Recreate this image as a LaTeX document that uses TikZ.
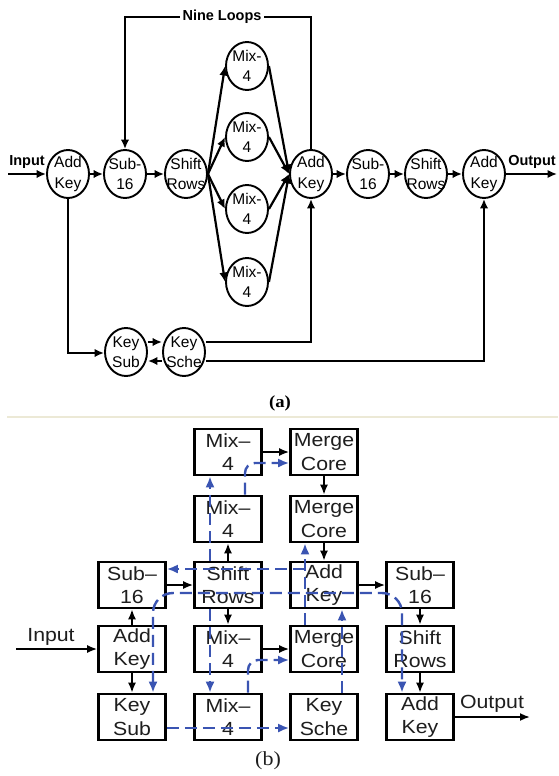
\documentclass[tikz,border=0pt]{standalone}
\usepackage{fontspec}
\setmainfont{Liberation Sans}
\newfontfamily\boxfont[FakeStretch=1.12]{Liberation Sans}
\newfontfamily\capfont[FakeStretch=1.1]{Liberation Serif}
\usetikzlibrary{arrows.meta,shapes.geometric}

\definecolor{kblue}{RGB}{58,84,178}
\definecolor{sepc}{RGB}{236,233,214}
\definecolor{boxtext}{RGB}{30,30,30}

\tikzset{
  circ/.style={ellipse, draw, line width=1.9pt, minimum width=42pt, minimum height=48pt,
    inner sep=-9pt, align=center, font=\fontsize{15.5}{20.5}\selectfont},
  aline/.style={line width=2.2pt, -{Latex[length=9.5pt,width=8.5pt]}},
  alabel/.style={font=\bfseries\fontsize{14.5}{16}\selectfont, inner sep=1pt},
  box/.style={draw, line width=2.6pt, minimum width=67pt, minimum height=46pt,
    inner sep=0pt, align=center, text=boxtext, font=\boxfont\fontsize{19}{23.5}\selectfont},
  barr/.style={line width=1.8pt, -{Latex[length=10pt,width=8pt]}},
  bdash/.style={kblue, line width=2.4pt, dash pattern=on 12pt off 6pt, -{Latex[length=11pt,width=9pt]}},
  blbl/.style={font=\boxfont\fontsize{19}{22}\selectfont, text=boxtext, inner sep=1pt},
}

\begin{document}
\begin{tikzpicture}[x=1pt,y=-1pt]
\useasboundingbox (0,0) rectangle (558,776);
\fill[white] (0,0) rectangle (558,776);

% ================= (a) =================
\node[circ] (a1) at (68,174) {Add\\Key};
\node[circ] (s1) at (125,174) {Sub-\\16};
\node[circ] (r1) at (186,174) {Shift\\Rows};
\node[circ] (x1) at (247,66) {Mix-\\4};
\node[circ] (x2) at (247,137) {Mix-\\4};
\node[circ] (x3) at (247,209) {Mix-\\4};
\node[circ] (x4) at (247,282) {Mix-\\4};
\node[circ] (a2) at (311,174) {Add\\Key};
\node[circ] (s2) at (368,174) {Sub-\\16};
\node[circ] (r2) at (426,174) {Shift\\Rows};
\node[circ] (a3) at (484,174) {Add\\Key};
\node[circ] (ks) at (126,352) {Key\\Sub};
\node[circ] (kc) at (184,352) {Key\\Sche};

\coordinate (ainS) at (8,174);
\coordinate (aoutE) at (557,174);
\coordinate (top) at (0,17);
\coordinate (kb) at (0,353);
\coordinate (ku) at (0,342);
\coordinate (kl) at (0,361);

\node[alabel] (ain) at (27,162) {Input};
\node[alabel] (aout) at (532,162) {Output};

\draw[aline] (ainS) -- (a1);
\draw[aline] (a1) -- (s1);
\draw[aline] (s1) -- (r1);
\foreach \i in {1,2,3,4}{
  \draw[aline] (r1.east) -- (x\i.west);
  \draw[aline] (x\i.east) -- (a2.west);
}
\draw[aline] (a2) -- (s2);
\draw[aline] (s2) -- (r2);
\draw[aline] (r2) -- (a3);
\draw[aline] (a3) -- (aoutE);

\draw[aline] (a2.north) -- (a2.north |- top) -- (s1.north |- top) -- (s1.north);
\node[alabel, fill=white, inner sep=3pt] (nl) at (222,17) {Nine Loops};

\draw[aline] (a1.south) -- (a1.south |- kb) -- (ks.west |- kb);
\draw[aline] (ks.east |- ku) -- (kc.west |- ku);
\draw[aline] (kc.west |- kl) -- (ks.east |- kl);
\draw[aline] (kc.east |- ku) -- (a2.south |- ku) -- (a2.south);
\draw[aline] (kc.east |- kl) -- (a3.south |- kl) -- (a3.south);

\node[font=\capfont\bfseries\fontsize{17}{18}\selectfont, inner sep=0pt] (capa) at (280,403) {(a)};

\draw[sepc, line width=1.4pt] (7,417) -- (558,417);

% ================= (b) =================
\node[box] (m1) at (228,452) {Mix–\\4};
\node[box] (mc1) at (324,452) {Merge\\Core};
\node[box] (m2) at (228,519) {Mix–\\4};
\node[box] (mc2) at (324,519) {Merge\\Core};
\node[box] (sb1) at (132,585) {Sub–\\16};
\node[box] (sr) at (228,585) {Shift\\Rows};
\node[box] (ak) at (324,585) {Add\\Key};
\node[box] (sb2) at (420,585) {Sub–\\16};
\node[box] (ak1) at (132,649) {Add\\Key};
\node[box] (m4) at (228,649) {Mix–\\4};
\node[box] (mc4) at (324,649) {Merge\\Core};
\node[box] (sr2) at (420,649) {Shift\\Rows};
\node[box] (ksb) at (132,717) {Key\\Sub};
\node[box] (m5) at (228,717) {Mix–\\4};
\node[box] (ksc) at (324,717) {Key\\Sche};
\node[box] (ak2) at (420,717) {Add\\Key};

\coordinate (inS) at (16,649);
\coordinate (outE) at (530,717);
\node[blbl] (bin) at (51,637) {Input};
\node[blbl] (bout) at (492,704) {Output};

% black connectors
\draw[barr] (inS) -- (ak1);
\draw[barr] (ak1) -- (sb1);
\draw[barr] (ak1) -- (ksb);
\draw[barr] (sb1) -- (sr);
\draw[barr] (sr) -- (m2);
\draw[barr] (sr) -- (m4);
\draw[barr] (m1) -- (mc1);
\draw[barr] (mc1) -- (mc2);
\draw[barr] (mc2) -- (ak);
\draw[barr] (m4) -- (mc4);
\draw[barr] (ak) -- (sb2);
\draw[barr] (sb2) -- (sr2);
\draw[barr] (sr2) -- (ak2);
\draw[barr] (ak2) -- (outE);

% blue dashed connectors
\coordinate (bx1) at (210,0);
\coordinate (b3) at (245,463);
\coordinate (b4) at (248,660);
\coordinate (b5) at (305,569);
\coordinate (b7) at (0,728);
\coordinate (b8) at (342,0);
\coordinate (b9l) at (153,593);
\coordinate (b9r) at (402,593);

\draw[bdash] (sr.north -| bx1) -- (m1.south -| bx1);
\draw[bdash] (sr.south -| bx1) -- (m5.north -| bx1);
\draw[bdash, rounded corners=10pt] (m2.north -| b3) -- (b3) -- (mc1.west |- b3);
\draw[bdash, rounded corners=10pt] (m5.north -| b4) -- (b4) -- (mc4.west |- b4);
\draw[bdash] (mc4.north -| b5) -- (mc2.south -| b5);
\draw[bdash] (b5) -- (sb1.east |- b5);
\draw[bdash] (ksb.east |- b7) -- (ksc.west |- b7);
\draw[bdash] (ksc.north -| b8) -- (ak.south -| b8);
\draw[bdash, {Latex[length=11pt,width=9pt]}-{Latex[length=11pt,width=9pt]}, rounded corners=20pt]
  (ksb.north -| b9l) -- (b9l) -- (b9r) -- (ak2.north -| b9r);

\node[font=\capfont\fontsize{20}{22}\selectfont, text=boxtext, inner sep=0pt] (capb) at (268,761) {(b)};
\end{tikzpicture}
\end{document}
